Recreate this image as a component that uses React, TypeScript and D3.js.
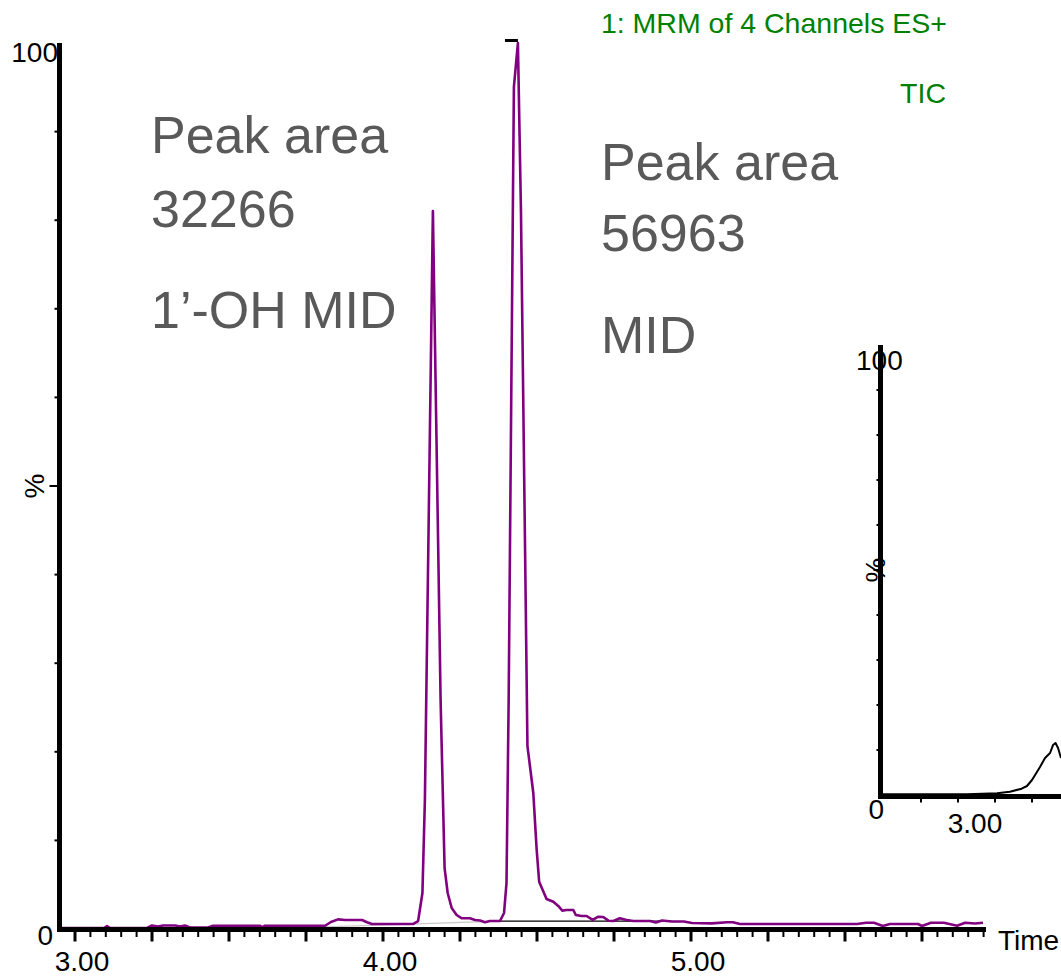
import React from "react";
import * as d3 from "d3";

// ---- Main chromatogram (MRM, purple) ----
const mainTime = [
  2.951, 3.081, 3.094, 3.104, 3.114, 3.234, 3.25, 3.269, 3.286, 3.325, 3.341, 3.357, 3.373, 3.432, 3.448,
  3.601, 3.607, 3.617, 3.812, 3.831, 3.854, 3.877, 3.932, 3.948, 3.964, 4.097, 4.114, 4.128, 4.136, 4.162,
  4.187, 4.2, 4.21, 4.223, 4.239, 4.256, 4.282, 4.299, 4.315, 4.331, 4.347, 4.38, 4.393, 4.401, 4.408,
  4.425, 4.438, 4.448, 4.469, 4.488, 4.499, 4.507, 4.531, 4.553, 4.569, 4.582, 4.596, 4.618, 4.626, 4.645,
  4.661, 4.681, 4.699, 4.715, 4.732, 4.748, 4.769, 4.791, 4.813, 4.834, 4.867, 4.886, 4.906, 4.938, 4.977,
  5.003, 5.068, 5.117, 5.136, 5.159, 5.354, 5.539, 5.568, 5.594, 5.623, 5.646, 5.737, 5.75, 5.779, 5.821,
  5.864, 5.89, 5.922, 5.948,
];
const mainIntensity = [
  0.11, 0.11, 0.11, 0.34, 0.11, 0.11, 0.4, 0.28, 0.4, 0.4, 0.28, 0.4, 0.17, 0.17, 0.37,
  0.37, 0.17, 0.37, 0.37, 0.79, 1.09, 1.02, 1.02, 0.76, 0.56, 0.56, 0.9, 4.06, 14.56, 81.04,
  25.85, 6.88, 4.06, 2.37, 1.58, 1.21, 1.21, 1.02, 0.96, 0.76, 0.9, 0.9, 1.81, 5.19, 25.85,
  95.03, 100, 80.81, 20.65, 15.35, 8.92, 5.34, 3.39, 3.08, 2.6, 2.07, 2.14, 2.14, 1.58, 1.47,
  1.47, 1.02, 1.39, 1.35, 0.94, 0.9, 1.21, 1.02, 0.9, 0.9, 0.9, 0.73, 0.96, 0.85, 0.85,
  0.68, 0.64, 0.76, 0.76, 0.56, 0.56, 0.56, 0.71, 0.71, 0.34, 0.56, 0.56, 0.34, 0.71, 0.71,
  0.37, 0.71, 0.62, 0.71,
];

// integration baselines
const peak1BaseTime = [3.812, 4.38];
const peak1BaseIntensity = [0.23, 0.9];
const peak2BaseTime = [4.38, 4.935];
const peak2BaseIntensity = [0.9, 0.9];
const apexMarkTime = [4.396, 4.438];

// ---- Inset (TIC, black) ----
const insetTime = [2.493, 3.061, 3.264, 3.351, 3.43, 3.466, 3.5, 3.554, 3.588, 3.622, 3.642, 3.659, 3.676, 3.696];
const insetIntensity = [0.16, 0.16, 0.38, 0.73, 1.4, 2.0, 3.33, 6.22, 8.22, 9.33, 11.1, 11.56, 10.44, 8.22];

const mainXLabels = ["3.00", "4.00", "5.00"];
const mainXLabelValues = [3, 4, 5];
const insetXLabels = ["3.00"];
const insetXLabelValues = [3];
const leftText = ["Peak area", "32266", "1\u2019-OH MID"];
const rightText = ["Peak area", "56963", "MID"];

const FONT = "Arial, 'Liberation Sans', Helvetica, sans-serif";

export default function App() {
  const W = 1061;
  const H = 978;

  // main scales
  const x = d3.scaleLinear().domain([3, 4]).range([75, 383]);
  const y = d3.scaleLinear().domain([0, 100]).range([929, 43]);
  const axisLeftX = 59.5;
  const axisBottomY = 929.5;
  const xEnd = 986;

  // inset scales
  const xi = d3.scaleLinear().domain([3, 3.25]).range([958, 995]);
  const yi = d3.scaleLinear().domain([0, 100]).range([795, 345]);
  const insetAxisX = 880.5;
  const insetAxisY = 796.5;

  const line = d3
    .line<number>()
    .x((_, i) => x(mainTime[i]))
    .y((v) => y(v))
    .curve(d3.curveLinear);
  const mainPath = line(mainIntensity) || "";

  const base1 = d3.line<number>().x((_, i) => x(peak1BaseTime[i])).y((v) => y(v))(peak1BaseIntensity) || "";
  const base2 = d3.line<number>().x((_, i) => x(peak2BaseTime[i])).y((v) => y(v))(peak2BaseIntensity) || "";

  const insetPath =
    d3
      .line<number>()
      .x((_, i) => xi(insetTime[i]))
      .y((v) => yi(v))(insetIntensity) || "";

  // ticks
  const minorX = d3.range(59, 120).map((k) => +(k * 0.05).toFixed(2)).filter((t) => x(t) >= 60 && x(t) <= 985);
  const yTicks = d3.range(1, 10).map((k) => k * 10);
  const insetXTicks = [2.75, 3, 3.25, 3.5];

  return (
    <svg
      width={W}
      height={H}
      style={{ position: "absolute", left: 0, top: 0, background: "#fff" }}
      fontFamily={FONT}
    >
      <rect x={0} y={0} width={W} height={H} fill="#fff" />

      {/* integration baselines */}
      <path d={base1} stroke="#c8c8c8" strokeWidth={1.2} fill="none" />
      <path d={base2} stroke="#000" strokeWidth={1.2} fill="none" />

      {/* main trace */}
      <path d={mainPath} stroke="#800080" strokeWidth={2.6} fill="none" strokeLinejoin="round" />

      {/* apex marker */}
      <line
        x1={x(apexMarkTime[0])}
        x2={x(apexMarkTime[1])}
        y1={y(100) - 2.5}
        y2={y(100) - 2.5}
        stroke="#000"
        strokeWidth={3}
      />

      {/* main x axis ticks */}
      {minorX.map((t) => {
        const isMajor = Math.abs(t * 4 - Math.round(t * 4)) < 1e-6;
        return (
          <line
            key={"xt" + t}
            x1={x(t)}
            x2={x(t)}
            y1={axisBottomY}
            y2={axisBottomY + (isMajor ? 12 : 7.5)}
            stroke="#000"
            strokeWidth={isMajor ? 3 : 2}
          />
        );
      })}

      {/* main y ticks */}
      {yTicks.map((v) => (
        <line
          key={"yt" + v}
          x1={axisLeftX - (v === 50 ? 10 : 5)}
          x2={axisLeftX}
          y1={y(v)}
          y2={y(v)}
          stroke="#000"
          strokeWidth={2}
        />
      ))}

      {/* main axes */}
      <line x1={axisLeftX} x2={axisLeftX} y1={43} y2={932} stroke="#000" strokeWidth={5} />
      <line x1={57} x2={xEnd} y1={axisBottomY} y2={axisBottomY} stroke="#000" strokeWidth={5} />

      {/* main axis labels */}
      <text x={58} y={62} fontSize={28} textAnchor="end" fill="#000">100</text>
      <text x={53} y={945} fontSize={28} textAnchor="end" fill="#000">0</text>
      {mainXLabels.map((lab, i) => (
        <text key={lab} x={x(mainXLabelValues[i]) + 7} y={971} fontSize={28} textAnchor="middle" fill="#000">
          {lab}
        </text>
      ))}
      <text x={998} y={950} fontSize={28} fill="#000">Time</text>
      <text
        x={0}
        y={0}
        fontSize={28}
        textAnchor="middle"
        fill="#000"
        transform={`translate(44, ${y(50)}) rotate(-90)`}
      >
        %
      </text>

      {/* header */}
      <text x={947} y={33} fontSize={28.5} textAnchor="end" fill="#008000">1: MRM of 4 Channels ES+</text>
      <text x={946} y={103} fontSize={28.5} textAnchor="end" fill="#008000">TIC</text>

      {/* annotations */}
      {leftText.map((s, i) => (
        <text key={"l" + i} x={151} y={[153, 227, 328][i]} fontSize={52} fill="#595959">
          {s}
        </text>
      ))}
      {rightText.map((s, i) => (
        <text key={"r" + i} x={601} y={[180, 251, 353][i]} fontSize={52} fill="#595959">
          {s}
        </text>
      ))}

      {/* inset */}
      <path d={insetPath} stroke="#000" strokeWidth={2} fill="none" strokeLinejoin="round" />
      {insetXTicks.map((t) => (
        <line key={"ixt" + t} x1={xi(t)} x2={xi(t)} y1={insetAxisY} y2={insetAxisY + 6} stroke="#000" strokeWidth={2} />
      ))}
      {yTicks.map((v) => (
        <line
          key={"iyt" + v}
          x1={insetAxisX - (v === 50 ? 7 : 4)}
          x2={insetAxisX}
          y1={yi(v)}
          y2={yi(v)}
          stroke="#000"
          strokeWidth={2}
        />
      ))}
      <line x1={insetAxisX} x2={insetAxisX} y1={345} y2={799} stroke="#000" strokeWidth={5} />
      <line x1={878} x2={1061} y1={insetAxisY} y2={insetAxisY} stroke="#000" strokeWidth={5} />
      <text x={856} y={370} fontSize={28} fill="#000">100</text>
      <text x={884} y={819} fontSize={28} textAnchor="end" fill="#000">0</text>
      {insetXLabels.map((lab, i) => (
        <text key={"il" + lab} x={xi(insetXLabelValues[i]) + 17} y={833} fontSize={28} textAnchor="middle" fill="#000">
          {lab}
        </text>
      ))}
      <text
        x={0}
        y={0}
        fontSize={28}
        textAnchor="middle"
        fill="#000"
        transform={`translate(885, ${yi(50)}) rotate(-90)`}
      >
        %
      </text>
    </svg>
  );
}
